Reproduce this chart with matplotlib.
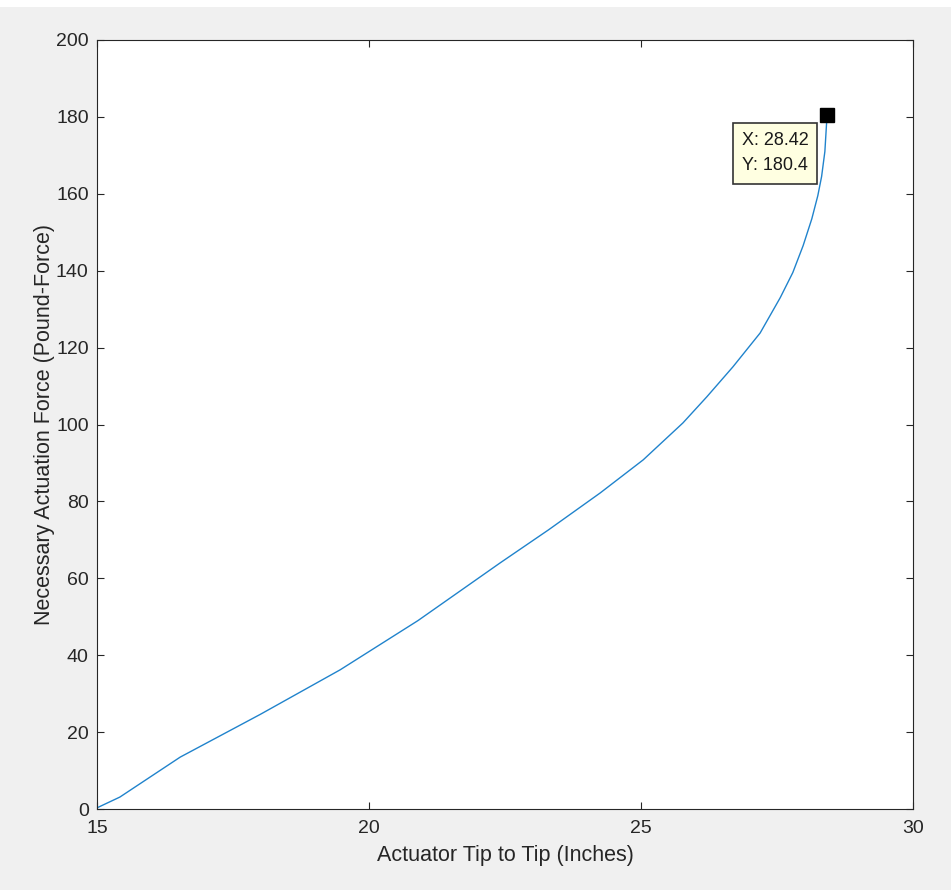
import matplotlib.pyplot as plt
from matplotlib.patches import Rectangle

plt.rcParams['font.family'] = ['Liberation Sans', 'DejaVu Sans']

# curve
tip_to_tip = [15.0, 15.42, 16.53, 18.0, 19.47, 20.9, 22.41, 23.3, 24.25,
              25.04, 25.77, 26.21, 26.69, 27.19, 27.56, 27.79, 27.98, 28.14,
              28.25, 28.32, 28.38, 28.42]
force = [0.3, 3.1, 13.5, 24.6, 36.2, 49.0, 64.0, 72.6, 82.2,
         90.8, 100.4, 107.2, 115.0, 123.8, 133.0, 139.5, 146.5, 153.5,
         159.5, 164.5, 171.0, 180.4]

tip_x, tip_y = 28.42, 180.4

fig = plt.figure(figsize=(9.51, 8.90), dpi=100, facecolor='#f0f0f0')
fig.patches.append(Rectangle((0, 1 - 7 / 890), 1, 7 / 890, transform=fig.transFigure,
                             facecolor='white', edgecolor='none', zorder=-1))
ax = fig.add_axes([97 / 951, 1 - 809 / 890, (913 - 97) / 951, (809 - 40) / 890])
ax.plot(tip_to_tip, force, color='#2083cc', lw=1.0)
ax.plot([tip_x], [tip_y], 's', color='black', ms=9.5)

# datatip box
ax.annotate('X: %.2f\nY: %.1f' % (tip_x, tip_y), xy=(tip_x, tip_y),
            xytext=(-13.5, -12), textcoords='offset points', ha='right', va='top',
            fontsize=13, color='#1a1a1a', linespacing=1.65,
            bbox=dict(boxstyle='square,pad=0.5', fc='#ffffe1', ec='#333333', lw=1.2))

ax.set_xlim(15, 30)
ax.set_ylim(0, 200)
ax.set_xticks([15, 20, 25, 30])
ax.set_yticks(range(0, 201, 20))
ax.tick_params(direction='in', top=True, right=True, length=5, width=0.8,
               labelsize=14, colors='#262626', pad=8)
ax.tick_params(axis='y', pad=6)
for s in ax.spines.values():
    s.set_color('#262626')
    s.set_linewidth(0.8)
ax.set_xlabel('Actuator Tip to Tip (Inches)', fontsize=15.5, color='#262626', labelpad=6)
ax.set_ylabel('Necessary Actuation Force (Pound-Force)', fontsize=15.5, color='#262626',
              labelpad=1)

fig.savefig('out.png', dpi=100, facecolor=fig.get_facecolor())
